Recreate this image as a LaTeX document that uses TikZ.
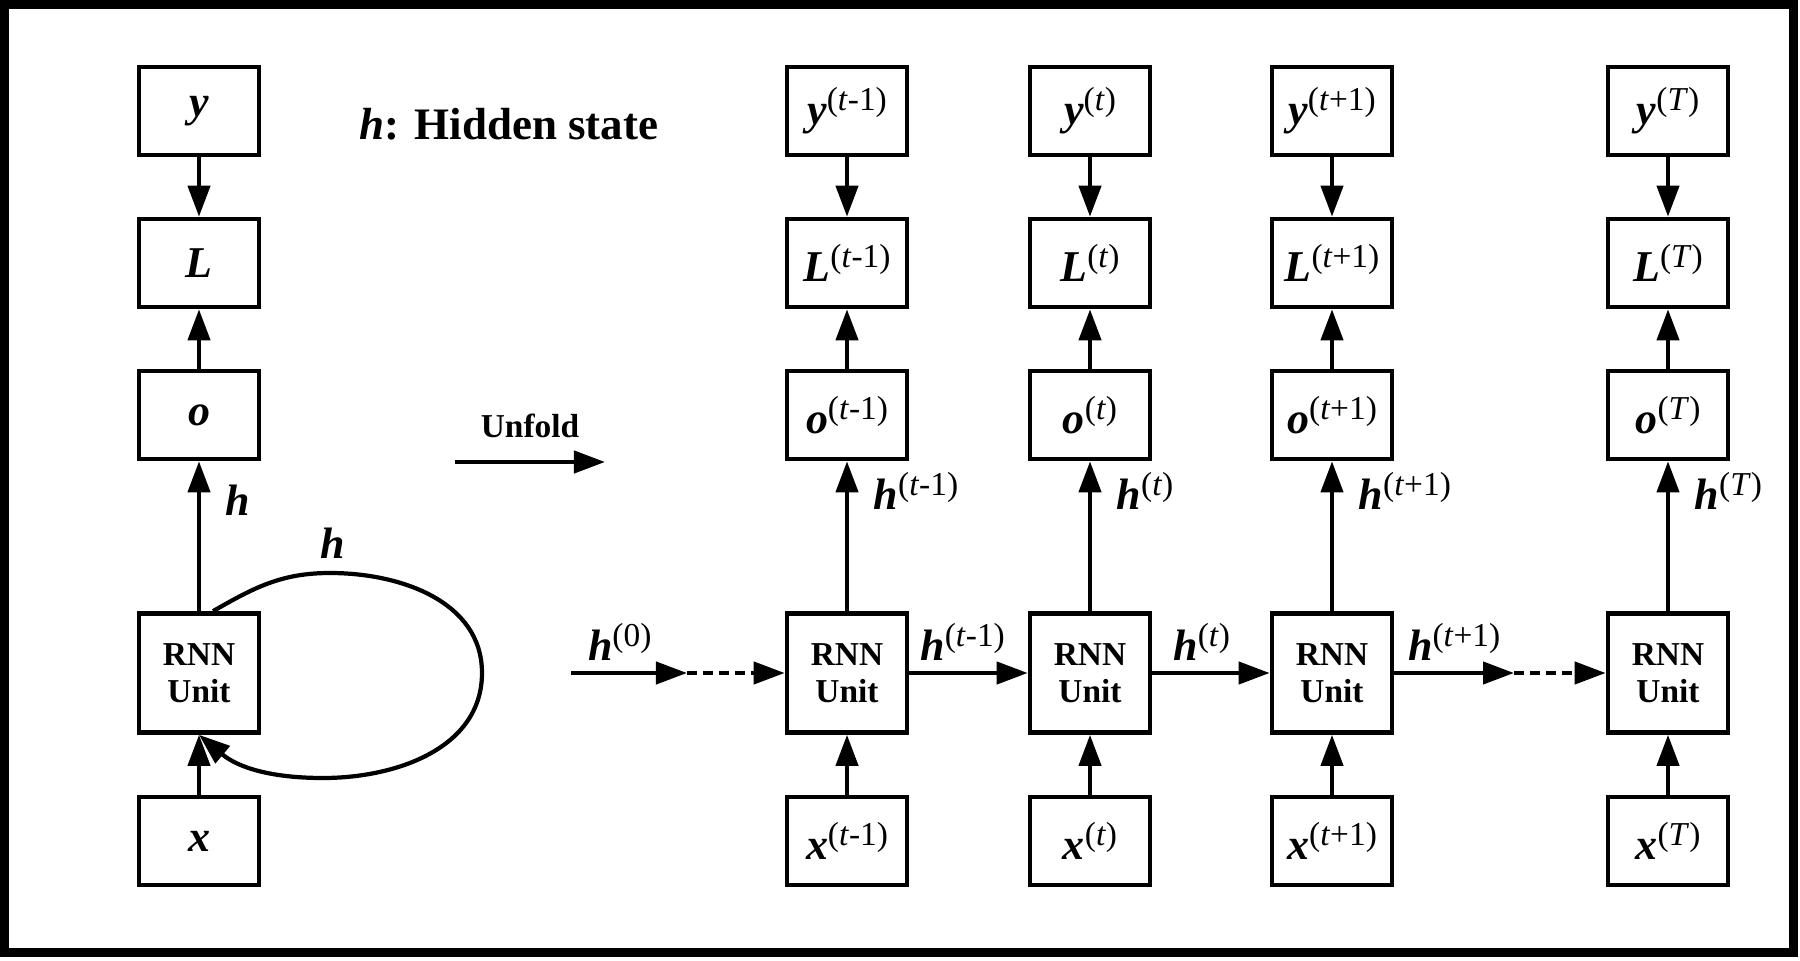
\documentclass[tikz,border=0pt]{standalone}
\usepackage{fontspec}
\setmainfont{Liberation Serif}
\usetikzlibrary{arrows.meta,positioning}

% bold italic symbol, and symbol with a time superscript
\newcommand{\vsym}[1]{\textbf{\textit{#1}}}
\newcommand{\vlab}[2]{\vsym{#1}\raisebox{4pt}{\fontsize{9.5}{10}\selectfont(#2)}}

\tikzset{
  blk/.style={draw, line width=1.3pt, minimum width=1.2cm, minimum height=0.88cm, inner sep=0pt, font=\fontsize{12.5}{14}\selectfont},
  unitblk/.style={blk, minimum height=1.19cm, align=center, font=\bfseries\fontsize{9.5}{10.5}\selectfont},
  arr/.style={line width=1.2pt, -{Triangle[length=0.31cm,width=0.22cm]}},
  dasharr/.style={arr, dash pattern=on 0.1cm off 0.06cm},
  hlab/.style={font=\fontsize{12.5}{14}\selectfont, inner sep=3pt}
}

\begin{document}
\begin{tikzpicture}[x=0.01cm, y=0.01cm]
    \useasboundingbox (0,0) rectangle (1800,960);

    % Outer frame
    \draw[line width=0.09cm] (4.5,8) rectangle (1793,955);

    % Legend and unfold arrow
    \node[font=\bfseries\fontsize{12.8}{15}\selectfont] (legend) at (509,836) {\textit{h}: Hidden state};
    \coordinate (u1) at (455,498);
    \coordinate (u2) at (605,498);
    \draw[arr] (u1) -- node[above=3pt, font=\bfseries\fontsize{9.5}{11}\selectfont] {Unfold} (u2);

    % Folded network
    \node[blk] (y0) at (199,849) {\vsym{y}};
    \node[blk] (L0) at (199,697) {\vsym{L}};
    \node[blk] (o0) at (199,545) {\vsym{o}};
    \node[unitblk] (r0) at (199,287) {RNN\\Unit};
    \node[blk] (x0) at (199,119) {\vsym{x}};

    \draw[arr] (y0) -- (L0);
    \draw[arr] (o0) -- (L0);
    \draw[arr] (r0) -- node[hlab, pos=0.74, right=0.14cm] {\vsym{h}} (o0);
    \draw[arr] (x0) -- (r0);

    % Recurrent loop
    \coordinate (lpT) at (330,387);
    \coordinate (lpR) at (482,287);
    \coordinate (lpB) at (323,182);
    \draw[arr] ([xshift=4]r0.north) to[out=30,in=180] (lpT) to[out=0,in=90] (lpR)
        to[out=-90,in=0] (lpB) to[out=180,in=-40] (r0.south);
    \node[hlab] (hloop) at (333,417) {\vsym{h}};

    % Unfolded network, column t-1
    \node[blk] (y1) at (847,849) {\vlab{y}{\textit{t}-1}};
    \node[blk] (L1) at (847,697) {\vlab{L}{\textit{t}-1}};
    \node[blk] (o1) at (847,545) {\vlab{o}{\textit{t}-1}};
    \node[unitblk] (r1) at (847,287) {RNN\\Unit};
    \node[blk] (x1) at (847,119) {\vlab{x}{\textit{t}-1}};

    % column t
    \node[blk] (y2) at (1090,849) {\vlab{y}{\textit{t}}};
    \node[blk] (L2) at (1090,697) {\vlab{L}{\textit{t}}};
    \node[blk] (o2) at (1090,545) {\vlab{o}{\textit{t}}};
    \node[unitblk] (r2) at (1090,287) {RNN\\Unit};
    \node[blk] (x2) at (1090,119) {\vlab{x}{\textit{t}}};

    % column t+1
    \node[blk] (y3) at (1332,849) {\vlab{y}{\textit{t}+1}};
    \node[blk] (L3) at (1332,697) {\vlab{L}{\textit{t}+1}};
    \node[blk] (o3) at (1332,545) {\vlab{o}{\textit{t}+1}};
    \node[unitblk] (r3) at (1332,287) {RNN\\Unit};
    \node[blk] (x3) at (1332,119) {\vlab{x}{\textit{t}+1}};

    % column T
    \node[blk] (y4) at (1668,849) {\vlab{y}{\textit{T}}};
    \node[blk] (L4) at (1668,697) {\vlab{L}{\textit{T}}};
    \node[blk] (o4) at (1668,545) {\vlab{o}{\textit{T}}};
    \node[unitblk] (r4) at (1668,287) {RNN\\Unit};
    \node[blk] (x4) at (1668,119) {\vlab{x}{\textit{T}}};

    % Vertical connections
    \draw[arr] (y1) -- (L1);
    \draw[arr] (o1) -- (L1);
    \draw[arr] (r1) -- node[hlab, pos=0.8, right=0.14cm] {\vlab{h}{\textit{t}-1}} (o1);
    \draw[arr] (x1) -- (r1);

    \draw[arr] (y2) -- (L2);
    \draw[arr] (o2) -- (L2);
    \draw[arr] (r2) -- node[hlab, pos=0.8, right=0.14cm] {\vlab{h}{\textit{t}}} (o2);
    \draw[arr] (x2) -- (r2);

    \draw[arr] (y3) -- (L3);
    \draw[arr] (o3) -- (L3);
    \draw[arr] (r3) -- node[hlab, pos=0.8, right=0.14cm] {\vlab{h}{\textit{t}+1}} (o3);
    \draw[arr] (x3) -- (r3);

    \draw[arr] (y4) -- (L4);
    \draw[arr] (o4) -- (L4);
    \draw[arr] (r4) -- node[hlab, pos=0.8, right=0.14cm] {\vlab{h}{\textit{T}}} (o4);
    \draw[arr] (x4) -- (r4);

    % Hidden state chain
    \coordinate (h0in) at (571,287);
    \coordinate (d1) at (687,287);
    \coordinate (d2) at (1514,287);
    \draw[arr] (h0in) -- node[hlab, above, pos=0.42] {\vlab{h}{0}} (d1);
    \draw[dasharr] (d1) -- (r1);
    \draw[arr] (r1) -- node[hlab, above, pos=0.45] {\vlab{h}{\textit{t}-1}} (r2);
    \draw[arr] (r2) -- node[hlab, above, pos=0.42] {\vlab{h}{\textit{t}}} (r3);
    \draw[arr] (r3) -- node[hlab, above] {\vlab{h}{\textit{t}+1}} (d2);
    \draw[dasharr] (d2) -- (r4);

\end{tikzpicture}
\end{document}
